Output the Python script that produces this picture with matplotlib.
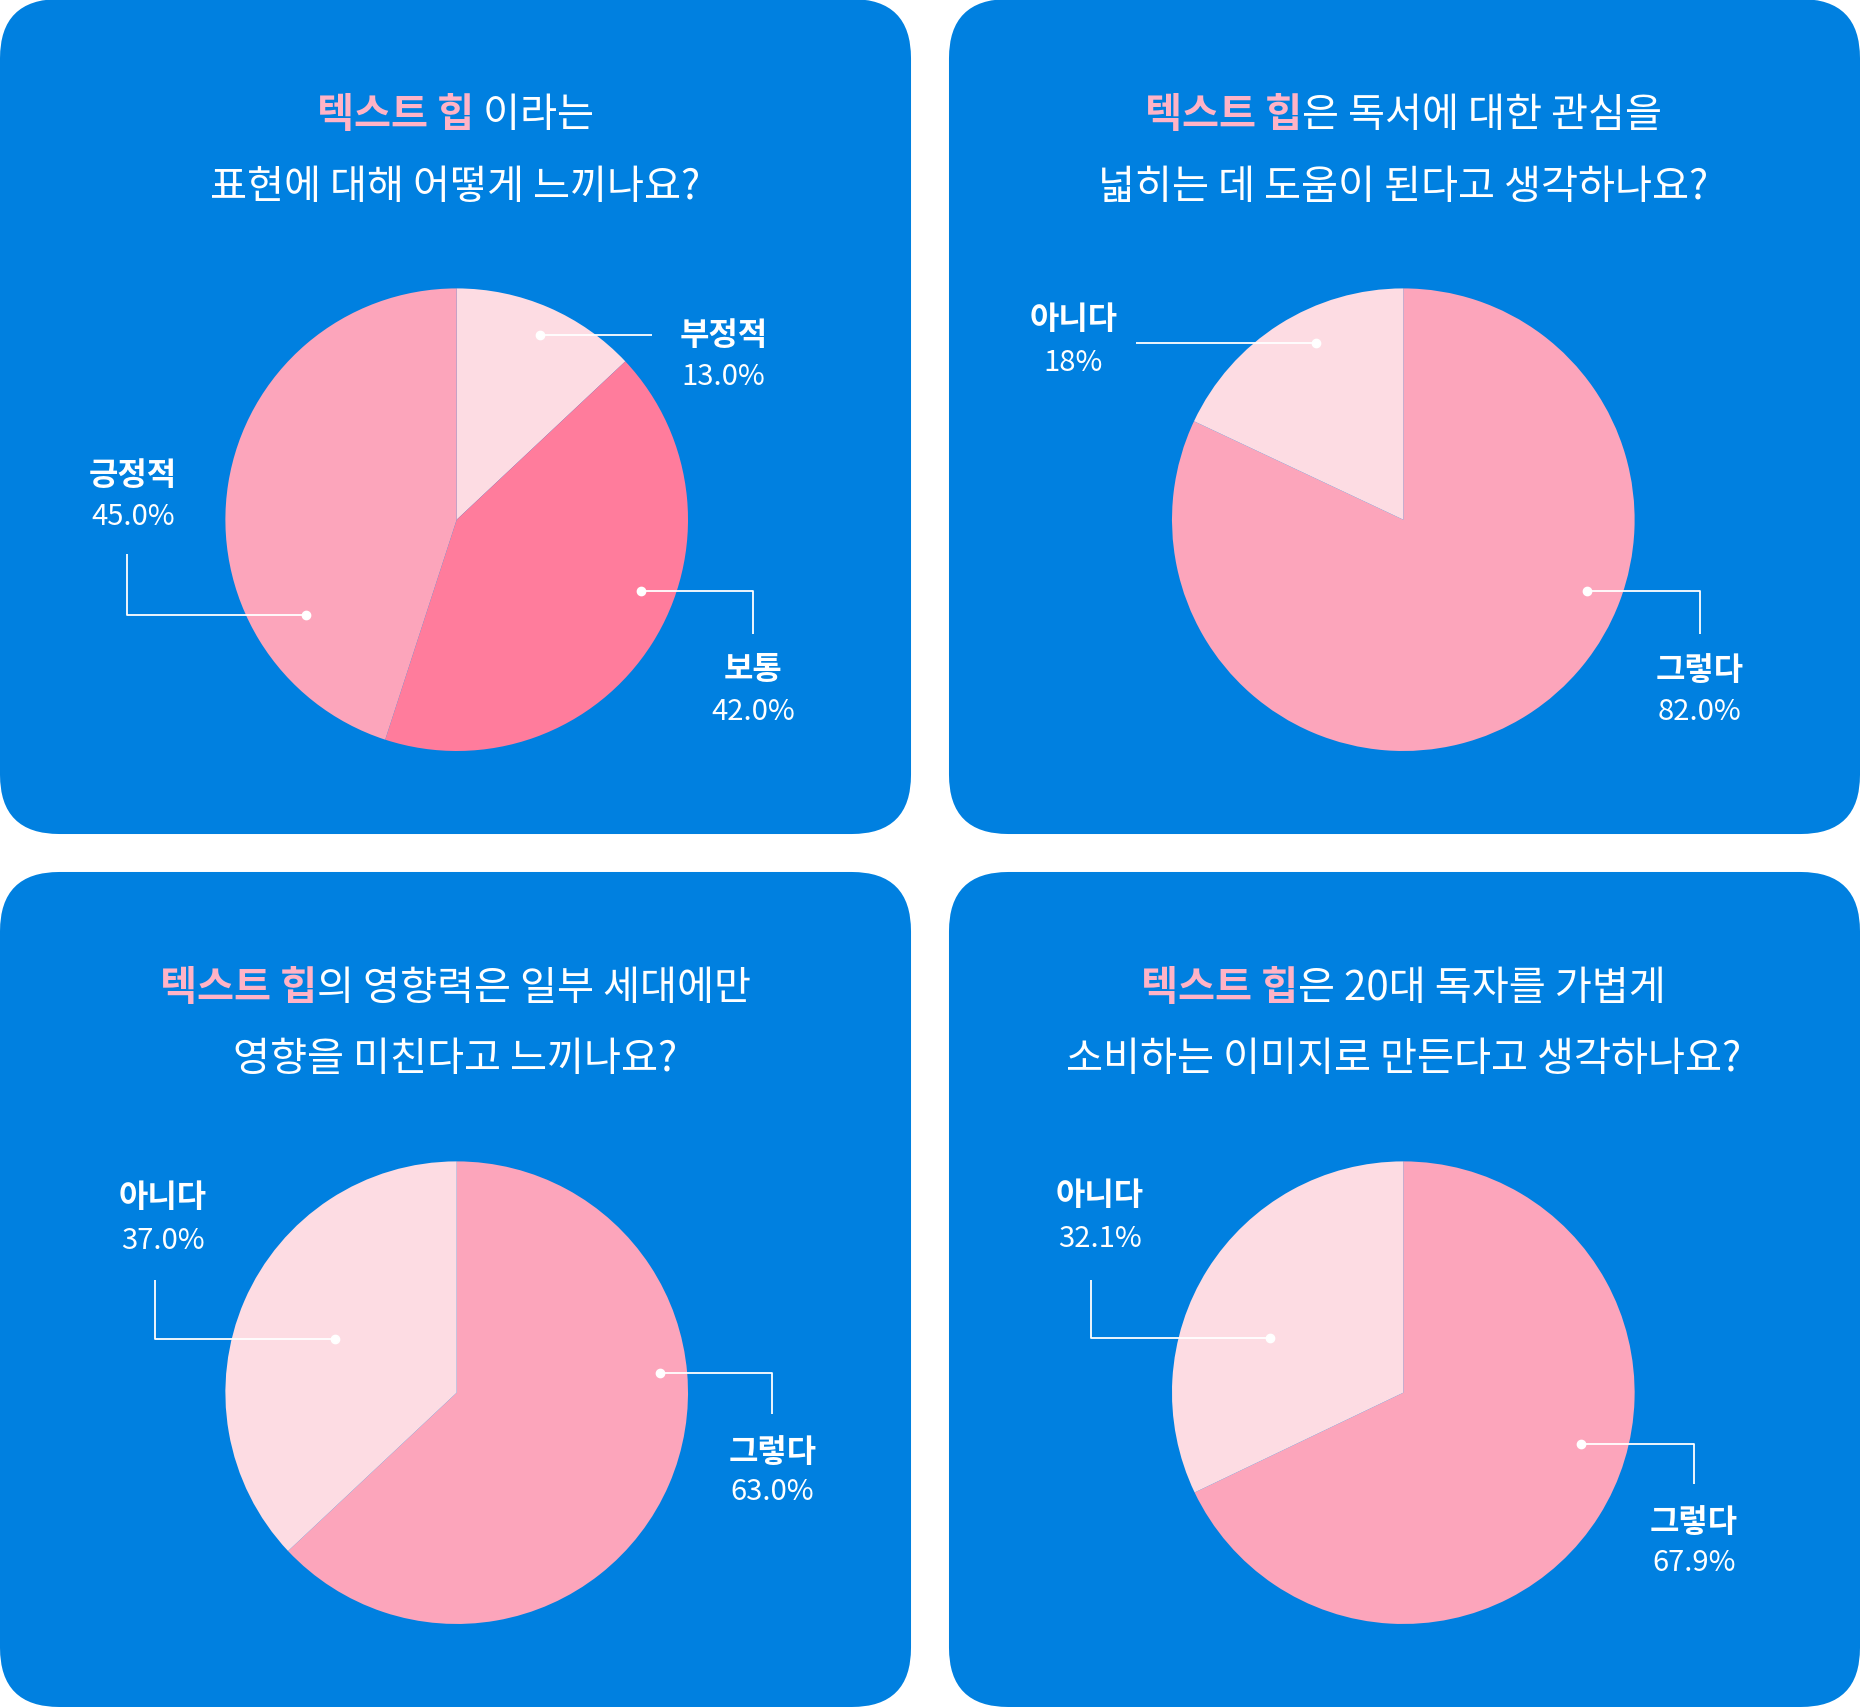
import matplotlib
matplotlib.use("Agg")
import matplotlib.pyplot as plt
from matplotlib.patches import FancyBboxPatch

plt.rcParams['font.family'] = ['Noto Sans CJK KR', 'DejaVu Sans']

# data
q1_labels = ["부정적", "보통", "긍정적"]
q1_values = [13.0, 42.0, 45.0]
q1_pct = ["13.0%", "42.0%", "45.0%"]
q2_labels = ["그렇다", "아니다"]
q2_values = [82.0, 18.0]
q2_pct = ["82.0%", "18%"]
q3_labels = ["그렇다", "아니다"]
q3_values = [63.0, 37.0]
q3_pct = ["63.0%", "37.0%"]
q4_labels = ["그렇다", "아니다"]
q4_values = [67.9, 32.1]
q4_pct = ["67.9%", "32.1%"]
titles_pink = ["텍스트 힙", "텍스트 힙", "텍스트 힙", "텍스트 힙"]
titles_rest = [" 이라는", "은 독서에 대한 관심을", "의 영향력은 일부 세대에만", "은 20대 독자를 가볍게"]
titles_line2 = ["표현에 대해 어떻게 느끼나요?", "넓히는 데 도움이 된다고 생각하나요?",
                "영향을 미친다고 느끼나요?", "소비하는 이미지로 만든다고 생각하나요?"]

W, H = 1568, 1440
BLUE = "#0080E0"
LIGHT = "#FDDCE3"; MID = "#FCA5BB"; DARK = "#FF7C9C"
PINK_T = "#FFB3C6"

fig = plt.figure(figsize=(18.6, 17.08), dpi=100)
ax = fig.add_axes([0, 0, 1, 1])

def Y(y):
    return H - y

panels = [(0, 0), (800, 0), (0, 736), (800, 736)]
for (px, py) in panels:
    ax.add_patch(FancyBboxPatch((px + 50, Y(py + 704) + 50), 668, 604,
                                boxstyle="round,pad=50", fc=BLUE, ec="none"))

def pie(cx, cy, vals, cols):
    ax.pie(vals, colors=cols, startangle=90, counterclock=False,
           center=(cx, Y(cy)), radius=195, frame=True,
           wedgeprops=dict(linewidth=0))

pie(385, 439, q1_values, [LIGHT, DARK, MID])
pie(1183, 439, q2_values, [MID, LIGHT])
pie(385, 1175, q3_values, [MID, LIGHT])
pie(1183, 1175, q4_values, [MID, LIGHT])

ax.set_xlim(0, W); ax.set_ylim(0, H); ax.set_aspect('auto'); ax.axis('off')

def connector(pts):
    xs = [p[0] for p in pts]; ys = [Y(p[1]) for p in pts]
    ax.plot(xs, ys, color="white", lw=1.3, solid_capstyle='butt')
    ax.plot(xs[0], ys[0], 'o', color="white", ms=6)

def label(x, y1, y2, name, pct):
    ax.text(x, Y(y1), name, color="white", fontsize=23, fontweight='bold', ha='center', va='center')
    ax.text(x, Y(y2), pct, color="white", fontsize=21, ha='center', va='center')

connector([(455, 283), (550, 283)]); label(610, 283, 318, q1_labels[0], q1_pct[0])
connector([(540, 499), (635, 499), (635, 535)]); label(635, 565, 600, q1_labels[1], q1_pct[1])
connector([(258, 519), (107, 519), (107, 468)]); label(112, 401, 436, q1_labels[2], q1_pct[2])

connector([(1109, 290), (958, 290)]); label(905, 270, 306, q2_labels[1], q2_pct[1])
connector([(1338, 499), (1433, 499), (1433, 535)]); label(1433, 566, 600, q2_labels[0], q2_pct[0])

connector([(282, 1130), (131, 1130), (131, 1080)]); label(137, 1010, 1046, q3_labels[1], q3_pct[1])
connector([(556, 1158), (651, 1158), (651, 1193)]); label(651, 1225, 1258, q3_labels[0], q3_pct[0])

connector([(1071, 1129), (920, 1129), (920, 1080)]); label(927, 1008, 1045, q4_labels[1], q4_pct[1])
connector([(1333, 1218), (1428, 1218), (1428, 1252)]); label(1428, 1284, 1318, q4_labels[0], q4_pct[0])

fig.canvas.draw()
r = fig.canvas.get_renderer()
inv = ax.transData.inverted()
title_pos = [(384, 97, 158), (1183, 97, 158), (384, 833, 893), (1183, 833, 893)]
for i, (cx, y1, y2) in enumerate(title_pos):
    t1 = ax.text(0, Y(y1), titles_pink[i], color=PINK_T, fontsize=29, fontweight='bold', ha='left', va='center')
    t2 = ax.text(0, Y(y1), titles_rest[i], color="white", fontsize=29, ha='left', va='center')
    b1 = t1.get_window_extent(r); b2 = t2.get_window_extent(r)
    w1 = inv.transform((b1.width, 0))[0] - inv.transform((0, 0))[0]
    w2 = inv.transform((b2.width, 0))[0] - inv.transform((0, 0))[0]
    x0 = cx - (w1 + w2) / 2
    t1.set_x(x0); t2.set_x(x0 + w1)
    ax.text(cx, Y(y2), titles_line2[i], color="white", fontsize=29, ha='center', va='center')

fig.savefig("out.png", dpi=100, facecolor="white")
